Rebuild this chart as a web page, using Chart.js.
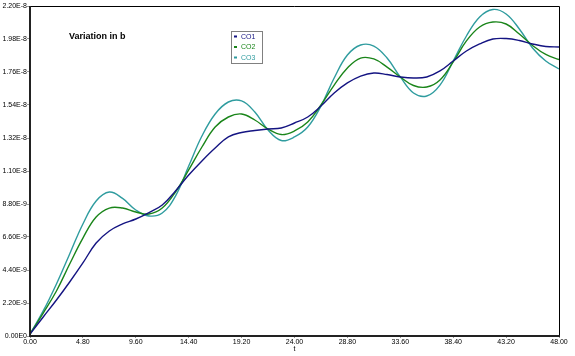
<!DOCTYPE html>
<html>
<head>
<meta charset="utf-8">
<script src="https://cdn.jsdelivr.net/npm/chart.js@4/dist/chart.umd.min.js"></script>
<style>
html,body{margin:0;padding:0;background:#fff;}
#wrap{width:575px;height:356px;position:relative;}
</style>
</head>
<body>
<div id="wrap"><canvas id="c" width="575" height="356"></canvas></div>
<script>
// time points t
const tValues = [0,1.2,2.4,3.6,4.8,6.0,7.2,8.4,9.6,10.8,12.0,13.2,14.4,15.6,16.8,18.0,19.2,20.4,21.6,22.8,24.0,25.2,26.4,27.6,28.8,30.0,31.2,32.4,33.6,34.8,36.0,37.2,38.4,39.6,40.8,42.0,43.2,44.4,45.6,46.8,48.0];
// series values, in units of 1E-9
const co1 = [0.13,1.27,2.4,3.6,4.87,6.2,7.0,7.47,7.8,8.23,8.73,9.67,10.73,11.67,12.53,13.27,13.57,13.7,13.8,13.87,14.2,14.6,15.33,16.2,16.87,17.33,17.53,17.43,17.27,17.2,17.27,17.67,18.33,19.0,19.47,19.8,19.83,19.7,19.47,19.3,19.27];
const co2 = [0.13,1.53,3.0,4.8,6.53,7.93,8.53,8.53,8.27,8.13,8.53,9.6,11.07,12.6,13.93,14.6,14.8,14.4,13.8,13.43,13.67,14.27,15.4,16.73,17.87,18.53,18.47,17.93,17.27,16.7,16.6,17.07,18.27,19.67,20.6,20.93,20.8,20.13,19.37,18.77,18.43];
const co3 = [0.13,1.67,3.47,5.47,7.47,9.0,9.6,9.17,8.4,8.0,8.2,9.33,11.33,13.33,14.8,15.6,15.67,14.93,13.73,13.03,13.27,13.93,15.33,17.2,18.73,19.4,19.33,18.53,17.27,16.2,16.0,16.73,18.33,20.0,21.27,21.77,21.47,20.47,19.2,18.33,17.8];
const seriesNames = ["CO1","CO2","CO3"];
// tick values and labels
const xTickValues = [0,4.8,9.6,14.4,19.2,24.0,28.8,33.6,38.4,43.2,48.0];
const xTickLabels = ["0.00","4.80","9.60","14.40","19.20","24.00","28.80","33.60","38.40","43.20","48.00"];
const yTickValues = [0,2.2,4.4,6.6,8.8,11,13.2,15.4,17.6,19.8,22];
const yTickLabels = ["0.00E0","2.20E-9","4.40E-9","6.60E-9","8.80E-9","1.10E-8","1.32E-8","1.54E-8","1.76E-8","1.98E-8","2.20E-8"];
const chartTitle = "Variation in b";
const xTitle = "t";

const colors = ["#141482","#1a851a","#2f9c9f"];
const FONT = "'Liberation Sans', Arial, sans-serif";

function pts(arr){ return arr.map((v,i)=>({x:tValues[i], y:v})); }

const framePlugin = {
  id:'frame',
  afterDraw(chart){
    const {ctx, chartArea:a} = chart;
    ctx.save();
    ctx.strokeStyle = '#000';
    ctx.lineWidth = 1;
    ctx.beginPath();
    ctx.moveTo(a.left, a.top+0.5); ctx.lineTo(a.right+0.5, a.top+0.5); ctx.lineTo(a.right+0.5, a.bottom);
    ctx.stroke();
    ctx.strokeStyle = '#222';
    ctx.lineWidth = 2;
    ctx.beginPath();
    ctx.moveTo(a.left, a.top); ctx.lineTo(a.left, a.bottom); ctx.lineTo(a.right+1, a.bottom);
    ctx.stroke();
    // title
    ctx.fillStyle = '#000';
    ctx.font = "bold 9px " + FONT;
    ctx.textBaseline = 'middle';
    ctx.textAlign = 'left';
    ctx.fillText(chartTitle, 69, 37);
    // legend box
    const lx = 231.5, ly = 31.5, lw = 31, lh = 32;
    ctx.strokeStyle = '#808080';
    ctx.lineWidth = 1;
    ctx.strokeRect(lx, ly, lw, lh);
    ctx.font = "7px " + FONT;
    chart.data.datasets.forEach((ds,i)=>{
      const yy = 37 + i*10.5;
      ctx.fillStyle = ds.borderColor;
      ctx.fillRect(234, yy-1.5, 3, 2);
      ctx.fillText(ds.label, 241, yy);
    });
    ctx.restore();
  }
};

new Chart(document.getElementById('c'), {
  type:'line',
  data:{
    datasets:[
      {label:seriesNames[0], data:pts(co1), borderColor:colors[0], borderWidth:1.4, pointRadius:0, fill:false, tension:0.4},
      {label:seriesNames[1], data:pts(co2), borderColor:colors[1], borderWidth:1.4, pointRadius:0, fill:false, tension:0.4},
      {label:seriesNames[2], data:pts(co3), borderColor:colors[2], borderWidth:1.4, pointRadius:0, fill:false, tension:0.4}
    ]
  },
  options:{
    responsive:false,
    animation:false,
    layout:{padding:{top:6,right:16,left:0,bottom:0}},
    plugins:{legend:{display:false}, tooltip:{enabled:false}, title:{display:false}},
    scales:{
      x:{
        type:'linear', min:0, max:48,
        afterBuildTicks(s){ s.ticks = xTickValues.map(v=>({value:v})); },
        afterFit(s){ s.height = 20; },
        grid:{drawOnChartArea:false, drawTicks:true, tickLength:2, color:'#999'},
        border:{display:false},
        ticks:{autoSkip:false, maxRotation:0, padding:0, color:'#000', font:{family:FONT,size:7},
          callback:(v,i)=>xTickLabels[i]},
        title:{display:true, text:xTitle, color:'#000', font:{family:FONT,size:7}, padding:{top:0,bottom:3}}
      },
      y:{
        type:'linear', min:0, max:22,
        afterBuildTicks(s){ s.ticks = yTickValues.map(v=>({value:v})); },
        afterFit(s){ s.width = 30; },
        grid:{drawOnChartArea:false, drawTicks:true, tickLength:3, color:'#999'},
        border:{display:false},
        ticks:{autoSkip:false, padding:0, color:'#000', font:{family:FONT,size:7},
          callback:(v,i)=>yTickLabels[i]}
      }
    }
  },
  plugins:[framePlugin]
});
</script>
</body>
</html>
